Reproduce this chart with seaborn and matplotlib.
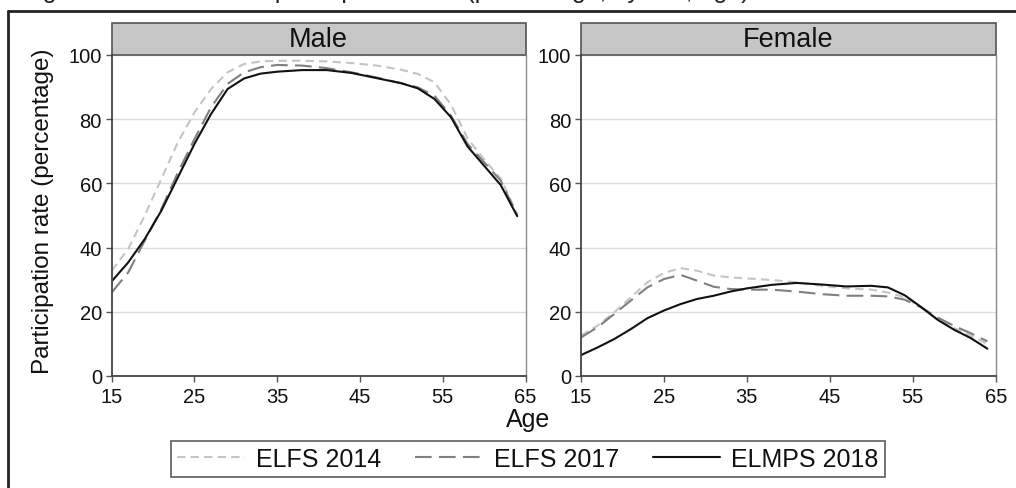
import seaborn as sns
import pandas as pd
import matplotlib.pyplot as plt
from matplotlib.lines import Line2D
from matplotlib.patches import Rectangle

# values (participation rate, %)
ages = [15, 17, 19, 21, 23, 25, 27, 29, 31, 33, 35, 38, 41, 44, 47, 50, 52, 54, 56, 58, 60, 62, 64]
surveys = ['ELFS 2014', 'ELFS 2017', 'ELMPS 2018']
sexes = ['Male', 'Female']

male_2014 = [32.8, 39.6, 50.0, 61.4, 72.8, 82.1, 89.4, 94.6, 97.2, 98.0, 98.2, 98.2,
             98.0, 97.5, 96.7, 95.4, 94.1, 91.5, 84.5, 74.0, 67.5, 61.5, 50.5]
male_2017 = [26.0, 32.3, 42.2, 52.0, 63.4, 73.8, 83.7, 91.0, 94.6, 96.2, 96.9, 96.7,
             95.9, 94.6, 93.0, 91.2, 89.9, 87.3, 81.1, 72.3, 66.6, 60.9, 50.0]
male_2018 = [29.5, 35.4, 42.7, 51.5, 61.9, 72.3, 81.6, 89.4, 92.7, 94.2, 94.8, 95.3,
             95.3, 94.4, 92.8, 91.2, 89.6, 86.3, 80.6, 71.5, 65.5, 59.5, 49.8]

female_2014 = [12.6, 15.7, 19.8, 24.5, 29.2, 32.1, 33.6, 32.8, 31.3, 30.7, 30.4, 29.9,
               29.2, 28.1, 27.3, 26.9, 26.0, 24.6, 21.4, 17.7, 14.9, 12.5, 10.0]
female_2017 = [12.0, 15.2, 19.3, 23.5, 27.6, 30.2, 31.5, 29.7, 27.8, 27.1, 26.9, 26.9,
               26.3, 25.5, 25.0, 25.0, 24.8, 23.8, 21.4, 18.2, 15.6, 13.3, 10.8]
female_2018 = [6.5, 8.9, 11.5, 14.6, 18.0, 20.4, 22.4, 24.0, 25.0, 26.3, 27.3, 28.4,
               29.0, 28.5, 27.9, 28.1, 27.6, 25.2, 21.5, 17.5, 14.4, 11.8, 8.5]

series = {
    ('Male', 'ELFS 2014'): male_2014,
    ('Male', 'ELFS 2017'): male_2017,
    ('Male', 'ELMPS 2018'): male_2018,
    ('Female', 'ELFS 2014'): female_2014,
    ('Female', 'ELFS 2017'): female_2017,
    ('Female', 'ELMPS 2018'): female_2018,
}
rows = []
for (sex, survey), vals in series.items():
    for a, v in zip(ages, vals):
        rows.append({'sex': sex, 'survey': survey, 'age': a, 'rate': v})
df = pd.DataFrame(rows)

sns.set_theme(style='white')
plt.rcParams['font.family'] = ['Liberation Sans', 'DejaVu Sans']

palette = {'ELFS 2014': '#c4c4c4', 'ELFS 2017': '#7f7f7f', 'ELMPS 2018': '#111111'}
dashes = {'ELFS 2014': (4, 2.5), 'ELFS 2017': (8, 3.5), 'ELMPS 2018': ''}

fig = plt.figure(figsize=(10.16, 4.89), dpi=100)
W, H = 1016, 489
ax_boxes = [(111.7, 525.5), (581, 995.7)]
top_px, bot_px = 56, 377

handles, labels = None, None
for i, sex in enumerate(sexes):
    x0, x1 = ax_boxes[i]
    ax = fig.add_axes([x0 / W, 1 - bot_px / H, (x1 - x0) / W, (bot_px - top_px) / H])
    sub = df[df['sex'] == sex]
    sns.lineplot(data=sub, x='age', y='rate', hue='survey', style='survey',
                 palette=palette, dashes=dashes, hue_order=surveys, style_order=surveys,
                 linewidth=1.5, ax=ax, legend=(i == 0))
    if i == 0:
        handles, labels = ax.get_legend_handles_labels()
        ax.get_legend().remove()
    ax.set_xlim(15, 65)
    ax.set_ylim(0, 100)
    ax.set_xticks([15, 25, 35, 45, 55, 65])
    ax.set_yticks([0, 20, 40, 60, 80, 100])
    ax.set_xlabel('')
    ax.set_ylabel('')
    ax.yaxis.grid(True, color='#dcdcdc', linewidth=1)
    ax.set_axisbelow(True)
    ax.tick_params(axis='both', labelsize=14.5, length=4, width=1, color='#555555',
                   labelcolor='#111111', direction='out')
    ax.tick_params(axis='x', pad=4)
    ax.tick_params(axis='y', pad=3)
    ax.tick_params(axis='both', bottom=True, left=True)
    for side in ['left', 'bottom']:
        ax.spines[side].set_color('#444444')
        ax.spines[side].set_linewidth(1.3)
    ax.spines['right'].set_color('#8a8a8a')
    ax.spines['right'].set_linewidth(1.0)
    ax.spines['top'].set_visible(False)
    # facet header
    strip_h = (top_px - 24) / (bot_px - top_px)
    ax.add_patch(Rectangle((0, 1), 1, strip_h, transform=ax.transAxes, clip_on=False,
                           facecolor='#c6c6c6', edgecolor='#555555', linewidth=1.2))
    ax.text(0.5, 1 + strip_h / 2, sex, transform=ax.transAxes, ha='center', va='center',
            fontsize=19.5, color='#111111')

fig.text(43 / W, 1 - 211.5 / H, 'Participation rate (percentage)', rotation=90,
         ha='center', va='center', fontsize=17.5, color='#111111')
fig.text(528 / W, 1 - 427 / H, 'Age', ha='center', va='baseline', fontsize=18, color='#111111')

leg = fig.legend(handles, labels, loc='center', bbox_to_anchor=(528 / W, 1 - 460 / H),
                 ncol=3, fontsize=18, frameon=True, fancybox=False, borderpad=0.25,
                 handlelength=2.7, handletextpad=0.45, columnspacing=1.35)
leg.get_frame().set_edgecolor('#444444')
leg.get_frame().set_linewidth(1.3)
for t in leg.get_texts():
    t.set_color('#111111')

# caption of the source document, cut off by the top edge as in the reference
fig.text(750 / W, 1 + 2 / H, 'Figure 2.1 Labor force participation rate (percentage, by sex, age)',
         ha='right', va='baseline', fontsize=18, color='#222222')
fig.add_artist(Line2D([8 / W, 1], [1 - 12 / H, 1 - 12 / H], transform=fig.transFigure,
                      color='#222222', linewidth=2))
fig.add_artist(Line2D([8 / W, 8 / W], [0, 1 - 12 / H], transform=fig.transFigure,
                      color='#222222', linewidth=2))

fig.savefig('out.png', dpi=100)
